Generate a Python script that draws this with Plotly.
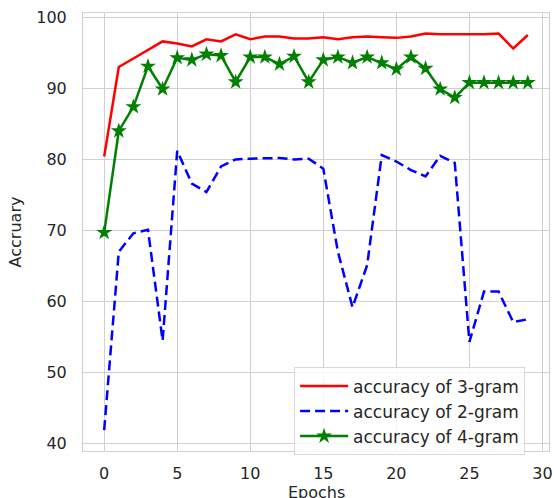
import plotly.graph_objects as go

epochs = list(range(30))
acc_3gram = [80.4, 93.0, 94.2, 95.4, 96.6, 96.3, 95.9, 96.9, 96.6, 97.6,
             96.9, 97.3, 97.3, 97.0, 97.0, 97.2, 96.9, 97.2, 97.3, 97.2,
             97.1, 97.3, 97.7, 97.6, 97.6, 97.5, 97.6, 97.7, 95.6, 97.5]
acc_2gram = [41.9, 67.0, 69.6, 70.1, 54.5, 81.2, 76.6, 75.4, 79.0, 80.0,
             80.1, 80.1, 80.2, 80.0, 80.1, 78.7, 67.0, 59.2, 65.1, 80.6,
             79.7, 78.5, 77.6, 80.5, 79.5, 54.3, 61.4, 61.4, 57.1, 57.5]
acc_4gram = [69.7, 84.0, 87.4, 93.1, 89.9, 94.3, 94.0, 94.8, 94.6, 90.9,
             94.4, 94.4, 93.4, 94.5, 90.9, 94.0, 94.4, 93.6, 94.4, 93.6,
             92.7, 94.4, 92.8, 89.9, 88.7, 90.8, 90.8, 90.8, 90.8, 90.8]
names = ["accuracy of 3-gram", "accuracy of 2-gram", "accuracy of 4-gram"]
x_ticks = [0, 5, 10, 15, 20, 25, 30]
y_ticks = [40, 50, 60, 70, 80, 90, 100]
x_title = "Epochs"
y_title = "Accruary"

font = "DejaVu Sans"
txt = "#262626"
grid = "#d0d0d0"

fig = go.Figure()
fig.add_trace(go.Scatter(x=epochs, y=acc_3gram, mode="lines", name=names[0],
                         line=dict(color="red", width=2.5)))
fig.add_trace(go.Scatter(x=epochs, y=acc_2gram, mode="lines", name=names[1],
                         line=dict(color="blue", width=2.5, dash="10px,5px")))
fig.add_trace(go.Scatter(x=epochs, y=acc_4gram, mode="lines+markers", name=names[2],
                         line=dict(color="green", width=2.5),
                         marker=dict(symbol="star", size=12, color="green",
                                     line=dict(width=0))))

fig.update_layout(
    width=554, height=498,
    margin=dict(l=83, r=5, t=13, b=47),
    paper_bgcolor="white", plot_bgcolor="white",
    font=dict(family=font, size=16, color=txt),
    legend=dict(x=0.453, y=0.191, xanchor="left", yanchor="top",
                bordercolor="#d8d8d8", borderwidth=1, bgcolor="rgba(255,255,255,0.8)",
                font=dict(size=17, color=txt), tracegroupgap=0, itemwidth=48),
    showlegend=True,
    annotations=[dict(text=x_title, xref="paper", yref="paper", x=0.5, y=-0.069,
                      xanchor="center", yanchor="top", showarrow=False,
                      font=dict(size=16, color=txt))],
)
fig.update_xaxes(range=[-1.45, 30.45], tickvals=x_ticks, showgrid=True,
                 gridcolor=grid, gridwidth=1, zeroline=False,
                 showline=True, linecolor=grid, linewidth=1, mirror=True,
                 ticks="", ticklabelstandoff=8, automargin=False)
fig.update_yaxes(range=[38.96, 100.6], tickvals=y_ticks, showgrid=True,
                 gridcolor=grid, gridwidth=1, zeroline=False,
                 showline=True, linecolor=grid, linewidth=1, mirror=True,
                 ticks="", ticklabelstandoff=12,
                 title=dict(text=y_title, standoff=10, font=dict(size=16)),
                 automargin=False)

fig.write_html("out.html", config={"displayModeBar": False},
               post_script="document.body.style.margin='0px';document.body.style.overflow='hidden';")
